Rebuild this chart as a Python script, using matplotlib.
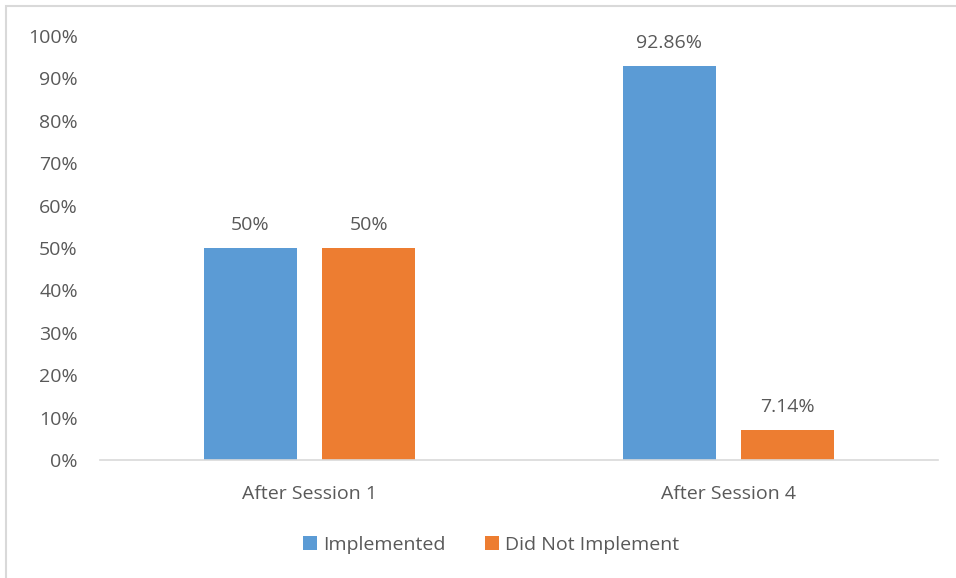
import matplotlib
matplotlib.use('Agg')
import matplotlib.pyplot as plt
from matplotlib.patches import Rectangle

categories = ['After Session 1', 'After Session 4']
implemented = [50, 92.86]
not_implemented = [50, 7.14]
impl_labels = ['50%', '92.86%']
not_impl_labels = ['50%', '7.14%']
yticks = [0, 10, 20, 30, 40, 50, 60, 70, 80, 90, 100]

plt.rcParams['font.family'] = ['Open Sans', 'DejaVu Sans']
txt = '#595959'
fs = 14

fig = plt.figure(figsize=(9.56, 5.78), dpi=100)
ax = fig.add_axes([100/956, 118/578, 838/956, 424/578])

# chart area frame (only left/top visible in the original)
fig.patches.append(Rectangle((6/956, -0.1), 1.2, (572/578) + 0.1, transform=fig.transFigure,
                             fill=False, edgecolor='#d9d9d9', linewidth=1.5))

x = [0.5, 1.5]
w = 0.222
gap = 0.06
xb = [i - gap/2 - w/2 for i in x]
xo = [i + gap/2 + w/2 for i in x]
ax.bar(xb, implemented, w, color='#5B9BD5', label='Implemented')
ax.bar(xo, not_implemented, w, color='#ED7D31', label='Did Not Implement')

for xi, v, l in zip(xb, implemented, impl_labels):
    ax.text(xi, v + 3.3, l, ha='center', va='bottom', fontsize=fs, color=txt)
for xi, v, l in zip(xo, not_implemented, not_impl_labels):
    ax.text(xi, v + 3.3, l, ha='center', va='bottom', fontsize=fs, color=txt)

ax.set_xlim(0, 2)
ax.set_ylim(0, 100)
ax.set_yticks(yticks)
ax.set_yticklabels([f'{t}%' for t in yticks])
ax.set_xticks(x)
ax.set_xticklabels(categories)
ax.tick_params(axis='both', length=0, labelsize=fs, colors=txt)
ax.tick_params(axis='y', pad=16)
ax.tick_params(axis='x', pad=18)
for s in ['top', 'right', 'left']:
    ax.spines[s].set_visible(False)
ax.spines['bottom'].set_color('#d9d9d9')
ax.spines['bottom'].set_linewidth(1.2)

leg = ax.legend(loc='center', bbox_to_anchor=(491/956, (578-545)/578), bbox_transform=fig.transFigure,
                ncol=2, frameon=False, fontsize=fs, handlelength=0.75, handleheight=0.75,
                handletextpad=0.3, columnspacing=2.0)
for t in leg.get_texts():
    t.set_color(txt)

plt.savefig('out.png', dpi=100)
